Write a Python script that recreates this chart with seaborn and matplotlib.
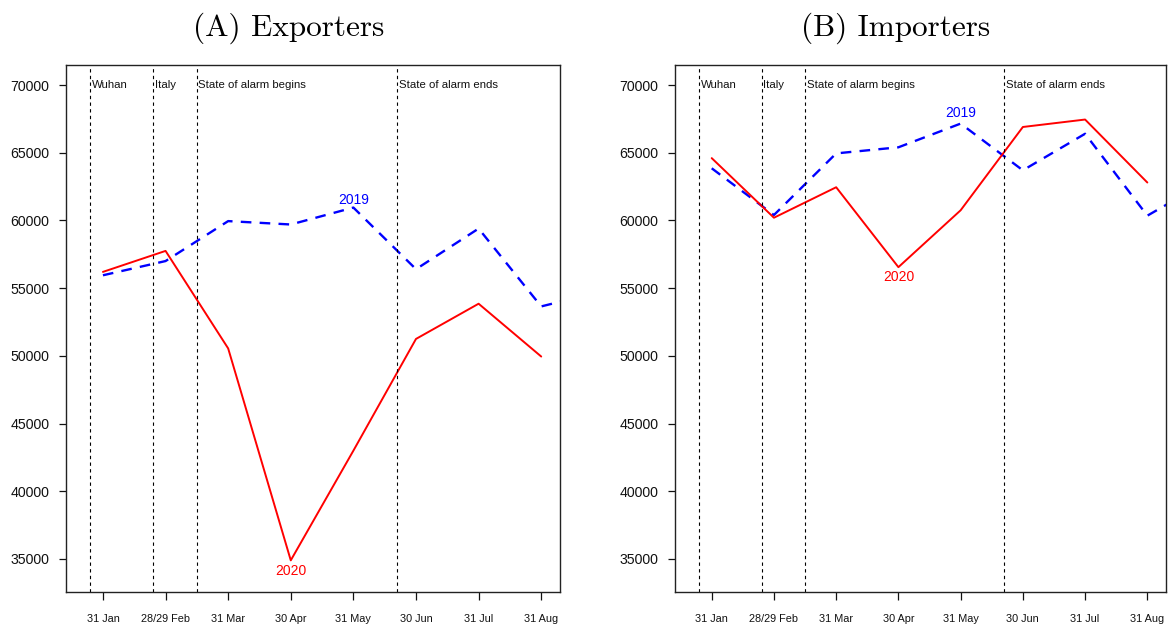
import numpy as np
import pandas as pd
import matplotlib
matplotlib.use("Agg")
import matplotlib.pyplot as plt
import seaborn as sns

# ---------------- data ----------------
month_labels = ["31 Jan", "28/29 Feb", "31 Mar", "30 Apr", "31 May", "30 Jun", "31 Jul", "31 Aug"]
exporters_2020 = [56200, 57750, 50550, 34900, 43000, 51250, 53850, 49950]
exporters_2019 = [55950, 57000, 59950, 59700, 60950, 56400, 59400, 53650, 54800]
importers_2020 = [64600, 60200, 62450, 56550, 60750, 66900, 67450, 62800]
importers_2019 = [63850, 60400, 64950, 65400, 67150, 63700, 66400, 60350, 63000]
event_labels = ["Wuhan", "Italy", "State of alarm begins", "State of alarm ends"]
event_positions = [0.80, 1.80, 2.50, 5.70]   # in month-index units
y_ticks = [35000, 40000, 45000, 50000, 55000, 60000, 65000, 70000]
panel_titles = ["(A) Exporters", "(B) Importers"]

sns.set_style("ticks")
plt.rcParams['font.family'] = ['Liberation Sans', 'DejaVu Sans']

fig = plt.figure(figsize=(11.68, 6.24), dpi=100)
W, H = 1168.0, 624.0
ax_a = fig.add_axes([66 / W, (H - 592) / H, 494 / W, 527 / H])
ax_b = fig.add_axes([675 / W, (H - 592) / H, 491 / W, 527 / H])

panels = [
    (ax_a, exporters_2020, exporters_2019, panel_titles[0], (1, -4)),
    (ax_b, importers_2020, importers_2019, panel_titles[1], (4, -3)),
]

for ax, v2020, v2019, title, offs in panels:
    d20 = pd.DataFrame({"pos": np.arange(1, len(v2020) + 1), "value": v2020})
    d19 = pd.DataFrame({"pos": np.arange(1, len(v2019) + 1), "value": v2019})
    sns.lineplot(data=d19, x="pos", y="value", ax=ax, color="#0000FF", lw=1.7,
                 linestyle=(0, (4.5, 3.5)), estimator=None, sort=False)
    sns.lineplot(data=d20, x="pos", y="value", ax=ax, color="#FF0000", lw=1.4,
                 estimator=None, sort=False)

    ax.set_xlim(0.41, 8.30)
    ax.set_ylim(32563, 71477)

    for pos, lab in zip(event_positions, event_labels):
        ax.axvline(pos, color="black", lw=0.8, linestyle=(0, (3, 3)))
        ax.annotate(lab, xy=(pos, 70000), xytext=(1.5, 0), textcoords="offset pixels",
                    ha="left", va="center", fontsize=8.2, color="#111111")

    # series labels
    i19 = 4  # 31 May
    ax.annotate("2019", xy=(i19 + 1, v2019[i19]), xytext=(0, offs[0]), textcoords="offset pixels",
                ha="center", va="bottom", fontsize=10, color="#0000FF")
    i20 = 3  # 30 Apr
    ax.annotate("2020", xy=(i20 + 1, v2020[i20]), xytext=(0, offs[1]), textcoords="offset pixels",
                ha="center", va="top", fontsize=10, color="#FF0000")

    ax.set_xticks(np.arange(1, len(month_labels) + 1))
    ax.set_xticklabels(month_labels)
    ax.set_yticks(y_ticks)
    ax.set_yticklabels([str(t) for t in y_ticks])
    ax.tick_params(axis="x", length=6, width=0.9, pad=10, labelsize=7.8, colors="#111111")
    ax.tick_params(axis="y", length=5, width=0.9, pad=7, labelsize=10.2, colors="#111111")
    ax.set_xlabel("")
    ax.set_ylabel("")
    for sp in ax.spines.values():
        sp.set_visible(True)
        sp.set_color("#222222")
        sp.set_linewidth(1.0)

    ax.text(0.45, 1.070, title, transform=ax.transAxes, ha="center", va="center",
            fontsize=22.5, family="cmr10", color="black")

fig.savefig("out.png", dpi=100)
